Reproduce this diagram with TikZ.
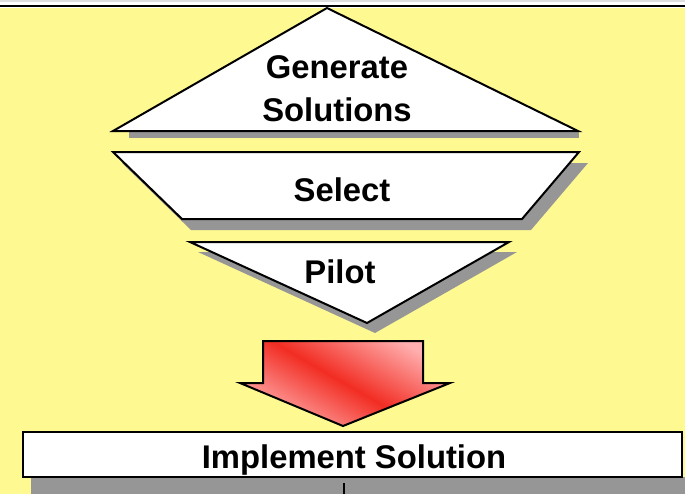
\documentclass[tikz,border=0pt]{standalone}
\usepackage{fontspec}
\setmainfont{Liberation Sans}
\usepackage{tikz}
\definecolor{paleyellow}{RGB}{255,249,145}
\definecolor{shadowgray}{RGB}{150,150,150}
\definecolor{arrowred}{RGB}{242,45,35}
\definecolor{arrowpink}{RGB}{255,175,175}
\usetikzlibrary{shapes,arrows}

\begin{document}
\begin{tikzpicture}[x=0.5pt, y=-0.5pt, line join=miter,
				outline/.style={draw=black, line width=1pt, fill=white},
				shadowfill/.style={fill=shadowgray, draw=none},
				steplabel/.style={font=\fontsize{16.4}{21.5}\selectfont\bfseries, align=center, inner sep=0pt}]
				%Hintergrund
				\useasboundingbox (0,0) rectangle (685,494);
				\fill[white] (0,0) rectangle (685,8);
				\fill[gray!25] (0,0) rectangle (685,1.5);
				\fill[paleyellow] (0,8) rectangle (685,494);
				\draw[line width=1pt] (0,6) -- (685,6);
				% Generate Solutions
				\fill[shadowfill] (129,131) rectangle (579,138);
				\draw[outline] (113,131) -- (327,8) -- (578,131) -- cycle;
				\node[steplabel] (gen) at (337,89) {Generate\\Solutions};
				% Select
				\fill[shadowfill, shift={(9,11)}] (113,152) -- (579,152) -- (522,219) -- (182,219) -- cycle;
				\draw[outline] (113,152) -- (579,152) -- (522,219) -- (182,219) -- cycle;
				\node[steplabel] (sel) at (342,190) {Select};
				% Pilot
				\fill[shadowfill, shift={(8,10)}] (190,242) -- (509,242) -- (367,323) -- cycle;
				\draw[outline] (190,242) -- (509,242) -- (367,323) -- cycle;
				\node[steplabel] (pilot) at (340,272) {Pilot};
				% Blockpfeil
				\draw[line width=1pt, left color=arrowpink, right color=arrowpink, middle color=arrowred, shading angle=-30]
					(263,341) -- (423,341) -- (423,383) -- (450,383) -- (343,426) -- (240,383) -- (263,383) -- cycle;
				% Implement Solution
				\fill[shadowfill] (31,477) rectangle (685,494);
				\draw[outline] (23,432) rectangle (682,477);
				\node[steplabel] (impl) at (354,460) {Implement Solution};
				\coordinate (tick) at (344,483);
				\draw[line width=1pt] (tick) -- (344,494);
			\end{tikzpicture}
\end{document}
